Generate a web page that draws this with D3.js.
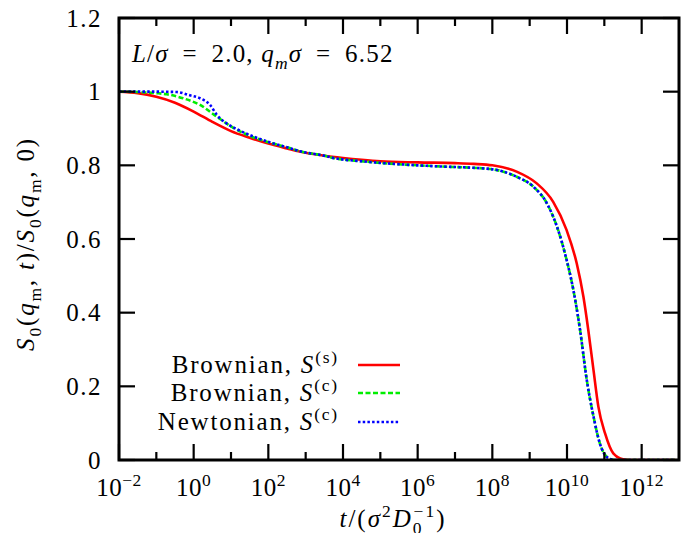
<!DOCTYPE html>
<html>
<head>
<meta charset="utf-8">
<script src="https://cdn.jsdelivr.net/npm/d3@7"></script>
<style>
  body { margin: 0; background: #fff; }
</style>
</head>
<body>
<svg id="chart" width="691" height="533"></svg>
<script>
// log10(t) exponents and S0(qm,t)/S0(qm,0) values
const redLogT = [-2, -1.5, -1, -0.5, 0, 0.5, 1, 1.5, 2, 2.5, 3, 3.5, 4, 4.5, 5, 6, 7, 7.5, 8, 8.65, 9.19, 9.63, 9.99, 10.26, 10.44, 10.57, 10.71, 10.84, 11.02, 11.24, 11.5, 11.7, 12.9];
const redVals = [1.0, 0.996, 0.986, 0.970, 0.946, 0.918, 0.893, 0.875, 0.859, 0.846, 0.834, 0.826, 0.820, 0.815, 0.811, 0.808, 0.806, 0.804, 0.800, 0.783, 0.751, 0.701, 0.624, 0.534, 0.443, 0.353, 0.244, 0.145, 0.072, 0.018, 0.002, 0, 0];

const greenLogT = [-2, -1.5, -1, -0.72, -0.28, 0.17, 0.62, 1.06, 1.5, 1.96, 2.5, 2.85, 3.5, 3.74, 4.5, 5.08, 6, 6.6, 7.94, 8.65, 9.1, 9.46, 9.73, 9.99, 10.17, 10.35, 10.53, 10.71, 10.88, 11.11, 11.3, 12.9];
const greenVals = [1.0, 0.999, 0.996, 0.993, 0.982, 0.964, 0.932, 0.902, 0.880, 0.864, 0.849, 0.838, 0.826, 0.820, 0.811, 0.806, 0.800, 0.797, 0.790, 0.769, 0.742, 0.697, 0.634, 0.543, 0.462, 0.353, 0.217, 0.118, 0.045, 0.005, 0, 0];

const blueLogT = [-2, -1, -0.45, -0.1, 0.17, 0.44, 0.62, 0.88, 1.2, 1.51, 1.96, 2.5, 2.85, 3.5, 3.74, 4.5, 5.08, 6, 6.6, 7.94, 8.65, 9.1, 9.46, 9.73, 9.99, 10.17, 10.35, 10.53, 10.71, 10.88, 11.11, 11.3, 12.9];
const blueVals = [1.0, 1.0, 0.999, 0.990, 0.982, 0.964, 0.937, 0.914, 0.896, 0.882, 0.865, 0.849, 0.838, 0.826, 0.820, 0.811, 0.806, 0.800, 0.797, 0.790, 0.769, 0.742, 0.697, 0.634, 0.543, 0.462, 0.353, 0.217, 0.118, 0.045, 0.005, 0, 0];

const xMajor = [-2, 0, 2, 4, 6, 8, 10, 12];
const xMinor = [-1, 1, 3, 5, 7, 9, 11];
const yTicks = [0, 0.2, 0.4, 0.6, 0.8, 1, 1.2];
const yTickLabels = ["0", "0.2", "0.4", "0.6", "0.8", "1", "1.2"];

const series = [
  { name: "Brownian", sup: "(s)", logT: redLogT, vals: redVals, color: "#ff0000", dash: null },
  { name: "Brownian", sup: "(c)", logT: greenLogT, vals: greenVals, color: "#00ee00", dash: "5,2.5" },
  { name: "Newtonian", sup: "(c)", logT: blueLogT, vals: blueVals, color: "#0000ff", dash: "2.5,2.2" }
];

const FONT = "'Liberation Serif', 'DejaVu Serif', serif";
const FS = 25;
const svg = d3.select("#chart");
const pLeft = 119, pRight = 679, pTop = 18, pBottom = 460;

const x = d3.scaleLog().domain([1e-2, 1e13]).range([pLeft, pRight]);
const y = d3.scaleLinear().domain([0, 1.2]).range([pBottom, pTop]);

// rich text: segments of {t, it, sub, sup, dx}
function rich(g, segs, size, spacing) {
  const txt = g.append("text")
    .style("font-size", size + "px")
    .style("font-family", FONT)
    .style("letter-spacing", (spacing || 0) + "px")
    .attr("fill", "#000");
  let shift = 0;
  segs.forEach(s => {
    let target = s.sub ? 0.28 * size : s.sup ? -0.42 * size : 0;
    const ts = txt.append("tspan").text(s.t)
      .attr("dy", target - shift)
      .style("font-size", ((s.sub || s.sup) ? size * 0.7 : size) + "px");
    if (s.it) ts.style("font-style", "italic");
    if (s.dx) ts.attr("dx", s.dx);
    shift = target;
  });
  return txt;
}

const defs = svg.append("defs");
defs.append("clipPath").attr("id", "clip")
  .append("rect").attr("x", pLeft).attr("y", pTop - 2).attr("width", pRight - pLeft).attr("height", pBottom - pTop + 2);

// curves
const line = d3.line()
  .x(d => x(Math.pow(10, d[0])))
  .y(d => y(d[1]))
  .curve(d3.curveMonotoneX);

const plot = svg.append("g").attr("clip-path", "url(#clip)");
series.forEach(s => {
  const pts = s.logT.map((e, i) => [e, s.vals[i]]);
  plot.append("path")
    .attr("d", line(pts))
    .attr("fill", "none")
    .attr("stroke", s.color)
    .attr("stroke-width", 2.6)
    .attr("stroke-dasharray", s.dash);
});

// ticks on all four sides, pointing inward
const tickG = svg.append("g").attr("stroke", "#000").attr("stroke-width", 2.2);
xMajor.concat(xMinor).forEach(e => {
  const len = xMajor.includes(e) ? 16 : 8;
  const px = x(Math.pow(10, e));
  tickG.append("line").attr("x1", px).attr("x2", px).attr("y1", pBottom).attr("y2", pBottom - len);
  tickG.append("line").attr("x1", px).attr("x2", px).attr("y1", pTop).attr("y2", pTop + len);
});
yTicks.forEach(v => {
  tickG.append("line").attr("x1", pLeft).attr("x2", pLeft + 16).attr("y1", y(v)).attr("y2", y(v));
  tickG.append("line").attr("x1", pRight).attr("x2", pRight - 16).attr("y1", y(v)).attr("y2", y(v));
});

// frame
svg.append("rect")
  .attr("x", pLeft).attr("y", pTop)
  .attr("width", pRight - pLeft).attr("height", pBottom - pTop)
  .attr("fill", "none").attr("stroke", "#000").attr("stroke-width", 3);

// y tick labels
yTicks.forEach((v, i) => {
  svg.append("text")
    .attr("x", 102).attr("y", y(v) + 8.5)
    .attr("text-anchor", "end")
    .style("font-family", FONT)
    .style("font-size", FS + "px")
    .style("letter-spacing", "1.5px")
    .text(yTickLabels[i]);
});

// x tick labels
xMajor.forEach(e => {
  const t = rich(svg, [{ t: "10" }, { t: e < 0 ? "\u2212" + (-e) : String(e), sup: true }], FS, 0.5);
  t.attr("y", 496);
  const w = t.node().getComputedTextLength();
  t.attr("x", x(Math.pow(10, e)) - w / 2);
});

// x axis label
const xl = rich(svg, [
  { t: "t", it: true }, { t: "/(" }, { t: "\u03c3", it: true }, { t: "2", sup: true },
  { t: "D", it: true }, { t: "0", sub: true }, { t: "\u22121", sup: true, dx: -10 }, { t: ")" }
], FS, 2);
xl.attr("y", 527);
xl.attr("x", 398 - xl.node().getComputedTextLength() / 2);

// y axis label
const yl = rich(svg, [
  { t: "S", it: true }, { t: "0", sub: true }, { t: "(" }, { t: "q", it: true }, { t: "m", sub: true },
  { t: ", " }, { t: "t", it: true }, { t: ")/" },
  { t: "S", it: true }, { t: "0", sub: true }, { t: "(" }, { t: "q", it: true }, { t: "m", sub: true },
  { t: ", 0)" }
], FS, 1.8);
const ylw = yl.node().getComputedTextLength();
yl.attr("transform", "translate(34," + (244 + ylw / 2) + ") rotate(-90)");

// parameter annotation
rich(svg, [
  { t: "L", it: true }, { t: "/" }, { t: "\u03c3", it: true }, { t: "\u2002=\u20022.0, " },
  { t: "q", it: true }, { t: "m", it: true, sub: true }, { t: "\u03c3", it: true }, { t: "\u2002=\u20026.52" }
], FS, 1.2).attr("x", 132).attr("y", 62);

// legend
const legY = [365, 393, 422];
series.forEach((s, i) => {
  const t = rich(svg, [{ t: s.name + ", " }, { t: "S", it: true }, { t: s.sup, sup: true }], FS, 1.8);
  t.attr("y", legY[i] + 8);
  t.attr("x", 339 - t.node().getComputedTextLength());
  svg.append("line")
    .attr("x1", 358).attr("x2", 400)
    .attr("y1", legY[i]).attr("y2", legY[i])
    .attr("stroke", s.color).attr("stroke-width", 2.6)
    .attr("stroke-dasharray", s.dash);
});
</script>
</body>
</html>
